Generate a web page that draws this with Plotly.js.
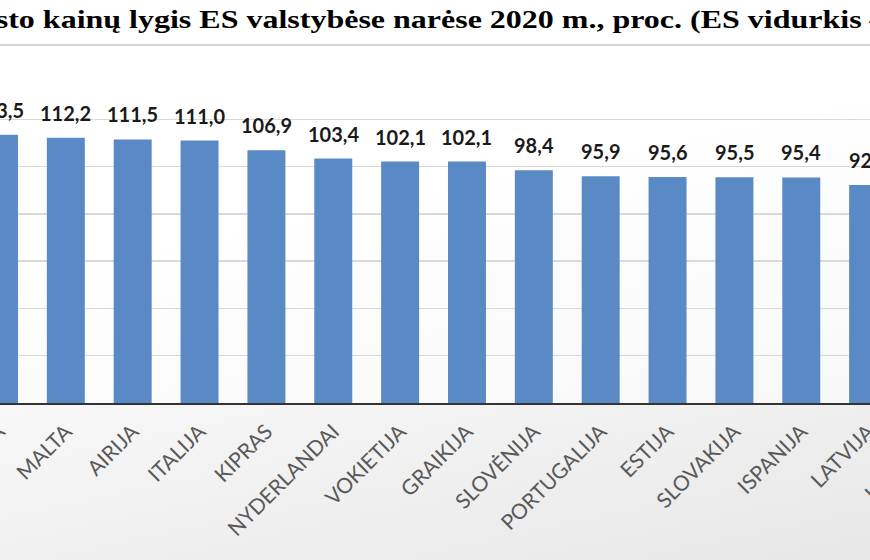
<!DOCTYPE html>
<html>
<head>
<meta charset="utf-8">
<script src="https://cdn.plot.ly/plotly-3.0.1.min.js"></script>
<style>
  html, body { margin: 0; padding: 0; width: 870px; height: 560px; overflow: hidden; }
  #wrap { position: absolute; left: 0; top: 0; width: 870px; height: 560px; overflow: hidden;
          background: linear-gradient(168deg, #ffffff 0%, #ffffff 35%, #e7e7e7 100%); }
  #chart { position: absolute; left: -40px; top: 0; width: 981px; height: 560px; }
  /* the reference title is horizontally stretched */
  #chart .gtitle { transform-box: fill-box; transform-origin: 50% 50%; transform: scaleX(1.231); }
</style>
</head>
<body>
<div id="wrap"><div id="chart"></div></div>
<script>
// Visible part of the chart (cropped reference)
const titleText = 'Maisto kainų lygis ES valstybėse narėse 2020 m., proc. (ES vidurkis – 100)';
const countries = ['PRANCŪZIJA', 'MALTA', 'AIRIJA', 'ITALIJA', 'KIPRAS', 'NYDERLANDAI', 'VOKIETIJA',
                   'GRAIKIJA', 'SLOVĖNIJA', 'PORTUGALIJA', 'ESTIJA', 'SLOVAKIJA', 'ISPANIJA', 'LATVIJA', 'KROATIJA'];
const priceLevel = [113.5, 112.2, 111.5, 111.0, 106.9, 103.4, 102.1,
                    102.1, 98.4, 95.9, 95.6, 95.5, 95.4, 92.2, null];
const yTicks = [0, 20, 40, 60, 80, 100, 120, 140];

const fmt = v => v.toFixed(1).replace('.', ',');

const annotations = [];
countries.forEach((c, i) => {
  if (priceLevel[i] === null) return;
  annotations.push({
    x: c, y: priceLevel[i], xref: 'x', yref: 'y',
    text: '<b>' + fmt(priceLevel[i]) + '</b>', showarrow: false,
    yanchor: 'bottom', yshift: 11,
    font: { family: 'Lato', size: 20, color: '#1a1a1a' }
  });
});

const trace = {
  type: 'bar',
  x: countries,
  y: priceLevel,
  marker: { color: '#5A8AC6' },
  hoverinfo: 'x+y'
};

const layout = {
  width: 981, height: 560,
  margin: { l: 0, r: 0, t: 72, b: 156.5, pad: 0 },
  paper_bgcolor: 'rgba(0,0,0,0)',
  plot_bgcolor: 'rgba(255,255,255,0.55)',
  bargap: 0.432,
  showlegend: false,
  title: {
    text: '<b>' + titleText + '</b>',
    x: 0.4959, xanchor: 'center',
    y: 1 - 19 / 560, yanchor: 'middle',
    font: { family: 'Liberation Serif', size: 26, color: '#000000' }
  },
  xaxis: {
    type: 'category',
    range: [-0.583, 14.09],
    tickangle: -45,
    tickfont: { family: 'Lato', size: 21, color: '#595959' },
    ticks: '', showgrid: false,
    showline: true, linecolor: '#333333', linewidth: 2,
    ticklabelstandoff: 6,
    automargin: false, fixedrange: true
  },
  yaxis: {
    range: [0, 140],
    tickvals: yTicks,
    showticklabels: false,
    showgrid: true, gridcolor: '#d9d9d9', gridwidth: 1.5,
    zeroline: false, showline: false,
    automargin: false, fixedrange: true
  },
  annotations: annotations,
  shapes: [{
    type: 'line', xref: 'paper', yref: 'paper',
    x0: 0, x1: 1, y0: (403.5 - 45) / 331.5, y1: (403.5 - 45) / 331.5,
    line: { color: '#c4c4c4', width: 1.5 }
  }]
};

Plotly.newPlot('chart', [trace], layout, { displayModeBar: false, staticPlot: true });
</script>
</body>
</html>
